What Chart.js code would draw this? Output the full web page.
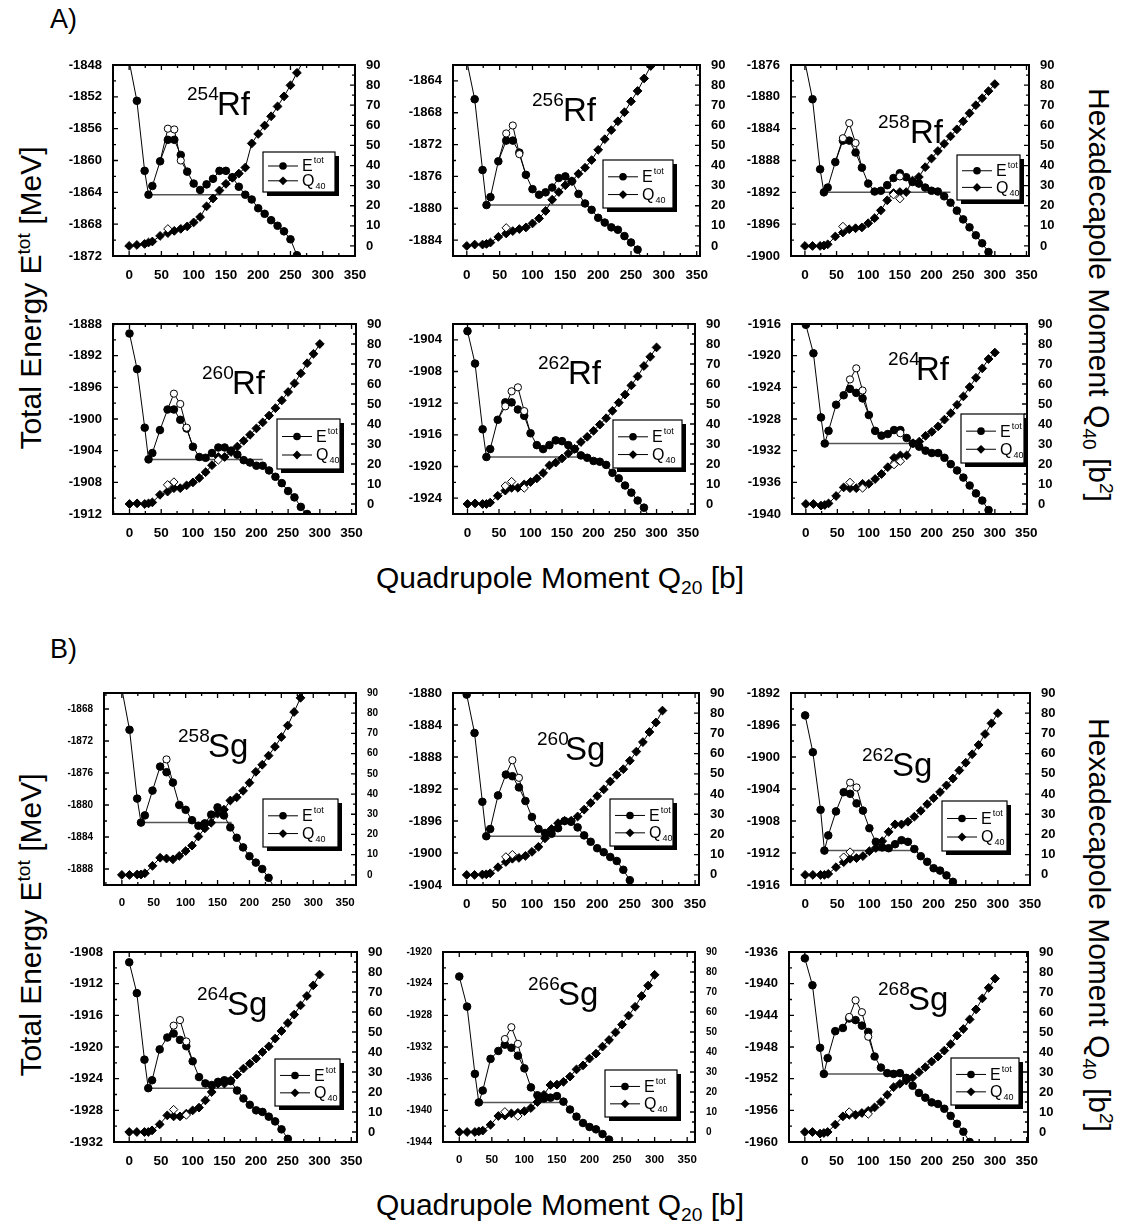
<!DOCTYPE html>
<html>
<head>
<meta charset="utf-8">
<script src="https://cdn.jsdelivr.net/npm/chart.js@4.4.0/dist/chart.umd.min.js"></script>
<style>
body { margin: 0; background: #fff; }
#page { position: relative; width: 1123px; height: 1227px; overflow: hidden; font-family: "Liberation Sans", Arial, sans-serif; color: #000; }
#page canvas { position: absolute; }
.txt { position: absolute; white-space: nowrap; font-size: 30px; line-height: 1; }
.ctr { transform: translate(-50%, -50%); }
.up { transform: translate(-50%, -50%) rotate(-90deg); }
.down { transform: translate(-50%, -50%) rotate(90deg); }
sup, sub { font-size: 0.64em; vertical-align: baseline; position: relative; }
sup { top: -0.55em; }
sub { top: 0.3em; }
</style>
</head>
<body>
<div id="page">
  <div class="txt" style="left:50px; top:6px; font-size:27px;">A)</div>
  <div class="txt" style="left:50px; top:636px; font-size:27px;">B)</div>
  <div class="txt up" style="left:31px; top:298px;">Total Energy E<sup>tot</sup> [MeV]</div>
  <div class="txt up" style="left:31px; top:925px;">Total Energy E<sup>tot</sup> [MeV]</div>
  <div class="txt down" style="left:1099px; top:295px;">Hexadecapole Moment Q<sub>40</sub> [b<sup>2</sup>]</div>
  <div class="txt down" style="left:1099px; top:925px;">Hexadecapole Moment Q<sub>40</sub> [b<sup>2</sup>]</div>
  <div class="txt ctr" style="left:560px; top:578px;">Quadrupole Moment Q<sub>20</sub> [b]</div>
  <div class="txt ctr" style="left:560px; top:1205px;">Quadrupole Moment Q<sub>20</sub> [b]</div>
</div>
<script>
// quadrupole moment grid [b]
const q20 = [0, 12, 24, 30, 36, 48, 60, 70, 80, 90, 100, 110, 120, 130, 140, 150, 160, 170, 180, 190, 200, 210, 220, 230, 240, 250, 260, 270, 280, 290, 300];
const xTicks = [0, 50, 100, 150, 200, 250, 300, 350];
const q40Ticks = [0, 10, 20, 30, 40, 50, 60, 70, 80, 90];

const symbols = ["Rf", "Rf", "Rf", "Rf", "Rf", "Rf", "Sg", "Sg", "Sg", "Sg", "Sg", "Sg"];
const masses = [254, 256, 258, 260, 262, 264, 258, 260, 262, 264, 266, 268];
// top of the energy axis, each axis spans 24 MeV
const energyTop = [-1848, -1862, -1876, -1888, -1902, -1916, -1866, -1880, -1892, -1908, -1920, -1936];
// end of the horizontal line drawn at the ground state energy
const barrierEnd = [180, 180, 230, 210, 180, 180, 172, 180, 170, 168, 162, 150];

// total energy E_tot [MeV]
const eRf254 = [-1847.5, -1852.5, -1861.3, -1864.3, -1863.2, -1860.1, -1857.4, -1857.4, -1859.3, -1861.4, -1862.9, -1863.7, -1863.0, -1862.3, -1861.3, -1861.3, -1862.1, -1863.3, -1864.3, -1864.9, -1866.0, -1866.7, -1867.5, -1868.2, -1868.9, -1869.9, -1871.9, -1873.5, null, null, null];
const eRf256 = [-1861.5, -1866.3, -1875.2, -1879.6, -1878.6, -1874.1, -1871.5, -1871.5, -1873.0, -1875.8, -1877.6, -1878.3, -1878.0, -1877.4, -1876.2, -1876.0, -1876.6, -1878.2, -1879.4, -1880.2, -1881.2, -1881.8, -1882.4, -1882.7, -1883.5, -1884.3, -1885.2, -1887.0, null, null, null];
const eRf258 = [-1875.6, -1880.3, -1889.1, -1892.0, -1891.4, -1888.2, -1885.5, -1885.5, -1887.0, -1888.9, -1890.9, -1891.9, -1891.8, -1891.1, -1890.2, -1889.6, -1890.1, -1890.7, -1890.9, -1891.4, -1891.8, -1891.9, -1892.5, -1893.3, -1894.3, -1895.4, -1896.4, -1897.4, -1898.4, -1899.5, -1901.0];
const eRf260 = [-1889.2, -1893.7, -1901.1, -1905.1, -1904.3, -1901.4, -1898.8, -1898.8, -1900.1, -1901.2, -1903.5, -1904.8, -1904.9, -1904.3, -1903.6, -1903.6, -1904.0, -1904.5, -1905.2, -1905.5, -1905.9, -1905.9, -1906.5, -1907.3, -1908.1, -1909.1, -1909.9, -1911.1, -1912.0, -1913.2, null];
const eRf262 = [-1902.9, -1907.0, -1915.3, -1918.8, -1917.8, -1914.1, -1911.9, -1911.9, -1912.8, -1913.6, -1915.8, -1917.3, -1917.8, -1917.3, -1916.7, -1916.8, -1917.3, -1917.8, -1918.6, -1918.9, -1919.3, -1919.4, -1919.8, -1920.8, -1921.5, -1922.4, -1923.3, -1924.3, -1925.2, -1926.6, null];
const eRf264 = [-1916.1, -1919.7, -1927.8, -1931.1, -1929.5, -1926.2, -1925.0, -1924.2, -1924.7, -1925.4, -1927.5, -1929.5, -1930.1, -1929.9, -1929.4, -1929.4, -1930.4, -1931.1, -1931.5, -1932.0, -1932.3, -1932.3, -1932.9, -1933.7, -1934.5, -1935.4, -1936.4, -1937.4, -1938.3, -1939.5, null];
const eSg258 = [-1865.5, -1870.6, -1879.2, -1882.2, -1881.3, -1878.2, -1875.2, -1875.9, -1877.2, -1880.0, -1880.6, -1881.9, -1882.6, -1882.3, -1881.2, -1880.3, -1881.3, -1882.8, -1884.1, -1885.3, -1886.4, -1887.2, -1888.0, -1889.1, -1890.5, null, null, null, null, null, null];
const eSg260 = [-1880.2, -1885.0, -1893.6, -1897.9, -1897.0, -1892.8, -1890.2, -1890.4, -1891.8, -1893.5, -1895.5, -1897.0, -1897.5, -1897.6, -1896.9, -1896.0, -1896.1, -1896.8, -1897.8, -1898.6, -1899.4, -1899.9, -1900.5, -1901.0, -1902.1, -1903.4, -1905.0, null, null, null, null];
const eSg262 = [-1894.8, -1899.4, -1906.6, -1911.7, -1909.8, -1906.8, -1904.4, -1904.6, -1905.8, -1906.7, -1908.9, -1910.6, -1911.3, -1911.4, -1910.9, -1910.4, -1910.6, -1911.5, -1912.4, -1913.1, -1913.9, -1914.2, -1914.8, -1915.6, -1917.0, null, null, null, null, null, null];
const eSg264 = [-1909.3, -1913.2, -1921.6, -1925.2, -1924.2, -1920.3, -1918.8, -1918.3, -1919.1, -1919.9, -1921.8, -1923.8, -1924.6, -1924.8, -1924.4, -1924.2, -1924.3, -1925.5, -1926.5, -1927.3, -1928.0, -1928.2, -1928.8, -1929.4, -1930.4, -1931.6, -1933.0, null, null, null, null];
const eSg266 = [-1923.1, -1926.9, -1935.4, -1939.0, -1937.5, -1933.5, -1932.5, -1931.7, -1932.1, -1933.1, -1934.7, -1937.1, -1938.1, -1938.5, -1938.4, -1938.2, -1938.9, -1939.9, -1940.8, -1941.6, -1942.1, -1942.4, -1943.0, -1943.7, -1945.0, null, null, null, null, null, null];
const eSg268 = [-1936.8, -1940.2, -1948.1, -1951.4, -1949.4, -1946.0, -1945.6, -1944.4, -1944.6, -1945.3, -1946.1, -1949.2, -1950.6, -1951.3, -1951.4, -1951.3, -1951.9, -1952.9, -1953.8, -1954.4, -1955.0, -1955.2, -1955.8, -1956.7, -1957.7, -1958.7, -1960.0, -1961.0, null, null, null];

// second (open symbol) energy branch: [Q20, E]
const openERf254 = [[60, -1856.0], [70, -1856.1], [80, -1860.0]];
const openERf256 = [[60, -1870.6], [70, -1869.6], [80, -1873.2]];
const openERf258 = [[60, -1885.2], [70, -1883.3], [80, -1885.8], [150, -1890.0]];
const openERf260 = [[70, -1896.8], [80, -1898.1], [90, -1901.1]];
const openERf262 = [[60, -1912.4], [70, -1910.5], [80, -1910.0], [90, -1913.0]];
const openERf264 = [[70, -1923.0], [80, -1921.6], [90, -1924.4], [150, -1929.8]];
const openESg258 = [[70, -1874.3]];
const openESg260 = [[70, -1888.4], [80, -1890.6]];
const openESg262 = [[70, -1903.2], [80, -1903.8]];
const openESg264 = [[70, -1917.3], [80, -1916.6], [90, -1919.3]];
const openESg266 = [[70, -1931.0], [80, -1929.5], [90, -1931.6]];
const openESg268 = [[70, -1944.2], [80, -1942.1], [90, -1943.6], [100, -1946.7]];

// hexadecapole moment Q40 [b^2]
const qRf254 = [0, 0.5, 1, 1.7, 2.2, 5, 6.4, 7.5, 8.5, 9.7, 11.7, 14.4, 19.7, 23.6, 27.6, 30.9, 33.9, 36, 39, 51, 55.7, 59.9, 64.5, 69.4, 74.4, 79.9, 86.1, 92, null, null, null];
const qRf256 = [0, 0.7, 0.7, 1, 1.7, 4.5, 6.2, 7.4, 8.4, 9.2, 11.2, 13.7, 17.4, 23, 26.8, 30.2, 32.2, 35.9, 38.9, 42.7, 47.8, 53.1, 57.6, 62, 66.5, 71.9, 77.1, 83.3, 89.5, 95, null];
const qRf258 = [0, 0, 0, 0.2, 0.8, 4.7, 6.7, 8.3, 8.8, 9.2, 11.3, 13.8, 17.7, 22.7, 26.3, 26.8, 26.8, 32.5, 34.3, 39.2, 43.5, 47.2, 50.8, 54.5, 58, 62, 66, 70, 73.5, 77, 80.5];
const qRf260 = [0, 0.3, 0, 0.3, 0.8, 4.6, 6.2, 7.9, 7.9, 9.3, 10.8, 13, 15.9, 19.4, 23.5, 23.5, 26, 28.7, 31.6, 34.6, 37.8, 40.8, 44.2, 47.9, 51.8, 56, 60.3, 65.3, 70.4, 75.1, 80];
const qRf262 = [0, 0.3, 0, 0, 0.7, 4.1, 6.7, 8.1, 8.1, 9.8, 11, 12.8, 15.5, 19.3, 20.7, 22.8, 25.3, 27.6, 31, 33.6, 36.6, 39.7, 42.9, 46.6, 50.7, 54.7, 59.3, 63.8, 69, 73.6, 78.3];
const qRf264 = [0, 0, -0.8, -0.5, 0.3, 4, 8.3, 7.9, 7.9, 10.1, 10.1, 12.5, 15, 18.4, 23.1, 24.3, 24.3, 30.4, 31.2, 34.1, 36.1, 38.8, 42.2, 45.4, 49.6, 53.8, 58.5, 63.1, 67.8, 72.5, 75.7];
const qSg258 = [0, 0, 0.2, 0.2, 0.8, 4.5, 8.5, 8.1, 7.7, 9.4, 11.8, 14.5, 19, 23, 25.8, 30.3, 32.3, 36.8, 38.4, 41.6, 45.6, 51, 54.5, 59, 63.4, 68.2, 73.9, 80.6, 87.6, 93, null];
const qSg260 = [0, 0, 0.2, 0.3, 0.8, 3.8, 6.4, 8, 8.4, 9.4, 11.4, 13.9, 18.1, 22.7, 25.6, 26.8, 26.8, 28.9, 32.3, 35.6, 39, 42.3, 46.2, 49.5, 52.3, 56.5, 61, 65.7, 70.7, 75.4, 81.3];
const qSg262 = [0, 0, 0, 0, 0.5, 3.8, 6.3, 8, 8.3, 9.3, 11.7, 13.3, 16.7, 21.3, 25, 25, 26.3, 28.8, 31.7, 35, 38, 41, 44.3, 47.7, 51.7, 55.5, 59.7, 64.3, 69.7, 75, 80];
const qSg264 = [0, 0, 0, 0, 0.8, 3.8, 8.3, 7.8, 7.8, 9.2, 10.8, 12.2, 15.8, 20, 24.2, 24.2, 25.8, 28.7, 31.7, 34.2, 36.7, 40, 42.8, 46.7, 50.5, 54.5, 58.7, 63.3, 68, 73.3, 78.7];
const qSg266 = [0, 0, 0, 0.3, 0.7, 3.6, 8, 8.2, 9.3, 9.6, 10.4, 12, 15, 18.6, 23.5, 23.7, 25.1, 27.7, 31.3, 33.3, 36.7, 39.2, 42.7, 46, 49.8, 53.7, 58.2, 62.6, 68, 73.2, 78.6];
const qSg268 = [0, 0, -0.8, -0.5, 0, 3.7, 7.8, 8.6, 8.6, 9.5, 10.6, 12.3, 15, 18.6, 22.4, 24.1, 25.7, 27.2, 29.9, 32.4, 35.2, 37.7, 40.7, 43.9, 48.2, 51.5, 56.3, 61.3, 66.8, 72.1, 76.7];

// open diamonds: [Q20, Q40]
const openQRf254 = [[60, 8.5]];
const openQRf256 = [[60, 9]];
const openQRf258 = [[60, 9.7], [140, 25.5], [150, 23.5]];
const openQRf260 = [[60, 9.6], [70, 11], [140, 22]];
const openQRf262 = [[60, 9], [70, 11.2], [90, 8]];
const openQRf264 = [[70, 10.8], [90, 8], [140, 19.7], [150, 21.4]];
const openQSg258 = [];
const openQSg260 = [[60, 8.9], [70, 10]];
const openQSg262 = [[60, 8.8], [70, 11.3]];
const openQSg264 = [[70, 11.2], [90, 8.5]];
const openQSg266 = [[70, 10.1], [90, 8]];
const openQSg268 = [[70, 10], [100, 9]];

const energies = [eRf254, eRf256, eRf258, eRf260, eRf262, eRf264, eSg258, eSg260, eSg262, eSg264, eSg266, eSg268];
const openEnergies = [openERf254, openERf256, openERf258, openERf260, openERf262, openERf264, openESg258, openESg260, openESg262, openESg264, openESg266, openESg268];
const moments = [qRf254, qRf256, qRf258, qRf260, qRf262, qRf264, qSg258, qSg260, qSg262, qSg264, qSg266, qSg268];
const openMoments = [openQRf254, openQRf256, openQRf258, openQRf260, openQRf262, openQRf264, openQSg258, openQSg260, openQSg262, openQSg264, openQSg266, openQSg268];

// layout: plot box [left, top, width, height], x range, nucleus label, legend box
const boxes = [
  [113, 65, 242, 191], [453, 65, 247, 191], [791, 65, 238, 191],
  [113, 324, 243, 190], [453, 324, 242, 190], [792, 324, 235, 190],
  [104, 693, 252, 192], [453, 693, 246, 192], [791, 693, 239, 192],
  [114, 952, 243, 190], [443, 952, 252, 190], [789, 952, 239, 190]
];
const xRanges = [[-25, 350], [-21, 355], [-22, 354], [-26, 357], [-23, 361], [-22, 351],
                 [-28, 367], [-21, 356], [-22, 350], [-24, 359], [-25, 362], [-25, 352]];
const labelPos = [[74, 104, 50], [79, 110, 56], [87, 119, 78], [89, 119, 70], [85, 115, 60], [96, 124, 56],
                  [74, 104, 64], [84, 112, 67], [71, 101, 83], [83, 113, 63], [85, 115, 53], [89, 119, 58]];
const legendPos = [[150, 87, 72, 40], [150, 95, 70, 48], [166, 90, 63, 45], [164, 95, 63, 50], [160, 96, 69, 48], [169, 90, 63, 49],
                   [159, 106, 75, 48], [157, 106, 63, 47], [151, 108, 65, 50], [161, 107, 65, 47], [162, 118, 72, 47], [162, 106, 68, 47]];
const smallFont = [false, false, false, false, false, false, true, false, false, false, true, false];

const FONT = '"Liberation Sans", Arial, sans-serif';

function branch(open, base) {
  const out = [];
  const idx = open.map(p => q20.indexOf(p[0]));
  for (let a = 0; a < open.length; a++) {
    const j = idx[a];
    if (a === 0 || idx[a - 1] !== j - 1) {
      if (a > 0) out.push({ x: q20[j] - 1, y: null });
      out.push({ x: q20[j - 1], y: base[j - 1], end: true });
    }
    out.push({ x: open[a][0], y: open[a][1] });
    if (a === open.length - 1 || idx[a + 1] !== j + 1) out.push({ x: q20[j + 1], y: base[j + 1], end: true });
  }
  return out;
}

function drawDiamond(ctx, x, y, r) {
  ctx.beginPath();
  ctx.moveTo(x, y - r); ctx.lineTo(x + r, y); ctx.lineTo(x, y + r); ctx.lineTo(x - r, y);
  ctx.closePath(); ctx.fill();
}

const decor = {
  id: 'decor',
  afterDatasetsDraw(chart, args, o) {
    const { ctx, chartArea: a, scales } = chart;
    ctx.save();
    ctx.strokeStyle = '#000';
    ctx.lineWidth = 2;
    ctx.strokeRect(a.left, a.top, a.right - a.left, a.bottom - a.top);
    ctx.lineWidth = 1.3;
    ctx.beginPath();
    const xs = scales.x, ye = scales.yE, yq = scales.yQ;
    for (let v = Math.ceil(xs.min / 25) * 25; v <= xs.max; v += 25) {
      const px = xs.getPixelForValue(v);
      const len = v % 50 === 0 ? 5 : 3;
      ctx.moveTo(px, a.bottom); ctx.lineTo(px, a.bottom - len);
      ctx.moveTo(px, a.top); ctx.lineTo(px, a.top + len);
    }
    for (let v = ye.min; v <= ye.max; v += 2) {
      const py = ye.getPixelForValue(v);
      const len = v % 4 === 0 ? 5 : 3;
      ctx.moveTo(a.left, py); ctx.lineTo(a.left + len, py);
    }
    for (let v = -5; v <= 90; v += 5) {
      const py = yq.getPixelForValue(v);
      const len = v % 10 === 0 ? 5 : 3;
      ctx.moveTo(a.right, py); ctx.lineTo(a.right - len, py);
    }
    ctx.stroke();

    // nucleus label
    ctx.fillStyle = '#000';
    ctx.textBaseline = 'alphabetic';
    ctx.textAlign = 'left';
    ctx.font = '33px ' + FONT;
    ctx.fillText(o.symbol, a.left + o.label[1], a.top + o.label[2]);
    ctx.font = '19px ' + FONT;
    ctx.fillText(String(o.mass), a.left + o.label[0], a.top + o.label[2] - 15);

    // legend
    const [lx, ly, lw, lh] = o.legend;
    const bx = a.left + lx, by = a.top + ly;
    ctx.fillRect(bx + 4, by + 4, lw, lh);
    ctx.fillStyle = '#fff';
    ctx.fillRect(bx, by, lw, lh);
    ctx.lineWidth = 1.2;
    ctx.strokeRect(bx, by, lw, lh);
    ctx.fillStyle = '#000';
    ctx.lineWidth = 1;
    const r1 = by + lh * 0.35, r2 = by + lh * 0.72;
    ctx.beginPath();
    ctx.moveTo(bx + 5, r1); ctx.lineTo(bx + 35, r1);
    ctx.moveTo(bx + 5, r2); ctx.lineTo(bx + 35, r2);
    ctx.stroke();
    ctx.beginPath(); ctx.arc(bx + 20, r1, 3.8, 0, Math.PI * 2); ctx.fill();
    drawDiamond(ctx, bx + 20, r2, 4.4);
    ctx.textBaseline = 'middle';
    ctx.font = '16px ' + FONT;
    ctx.fillText('E', bx + 39, r1 + 1);
    const ew = ctx.measureText('E').width;
    ctx.fillText('Q', bx + 39, r2 + 1);
    const qw = ctx.measureText('Q').width;
    ctx.font = '9px ' + FONT;
    ctx.fillText('tot', bx + 40 + ew, r1 - 5);
    ctx.fillText('40', bx + 40 + qw, r2 + 6);
    ctx.restore();
  }
};

const page = document.getElementById('page');

function makePanel(i) {
  const [left, top, w, h] = boxes[i];
  const padL = 56, padR = 42, padT = 12, padB = 28;
  const canvas = document.createElement('canvas');
  canvas.width = w + padL + padR;
  canvas.height = h + padT + padB;
  canvas.style.left = (left - padL) + 'px';
  canvas.style.top = (top - padT) + 'px';
  page.appendChild(canvas);

  const small = smallFont[i];
  const tickFont = { family: FONT, size: small ? 10 : 13, weight: 'bold' };
  const xFont = { family: FONT, size: small ? 11.5 : 13.5, weight: 'bold' };
  const eTop = energyTop[i];
  const eTicks = [];
  for (let v = Math.ceil((eTop - 24) / 4) * 4; v <= eTop; v += 4) eTicks.push(v);

  const E = energies[i], Q = moments[i];
  const eData = q20.map((x, k) => ({ x, y: E[k] })).filter(p => p.y !== null);
  const qData = q20.map((x, k) => ({ x, y: Q[k] })).filter(p => p.y !== null);
  const gs = E[q20.indexOf(30)];

  new Chart(canvas, {
    type: 'line',
    data: {
      datasets: [
        {
          data: branch(openEnergies[i], E), yAxisID: 'yE',
          borderColor: '#000', borderWidth: 1, backgroundColor: '#fff',
          pointRadius: c => (c.raw && c.raw.end) ? 0 : 3.6,
          pointBorderWidth: 1, pointBorderColor: '#000', pointBackgroundColor: '#fff', spanGaps: false
        },
        {
          data: eData, yAxisID: 'yE', borderColor: '#000', borderWidth: 1,
          pointStyle: 'circle', pointRadius: 3.8, pointBackgroundColor: '#000', pointBorderColor: '#000', pointBorderWidth: 1
        },
        {
          data: openMoments[i].map(p => ({ x: p[0], y: p[1] })), yAxisID: 'yQ', showLine: false,
          pointStyle: 'rectRot', pointRadius: 4.2, pointBackgroundColor: '#fff', pointBorderColor: '#000', pointBorderWidth: 1
        },
        {
          data: qData, yAxisID: 'yQ', borderColor: '#000', borderWidth: 1,
          pointStyle: 'rectRot', pointRadius: 4.4, pointBackgroundColor: '#000', pointBorderColor: '#000', pointBorderWidth: 1
        },
        {
          data: [{ x: 30, y: gs }, { x: barrierEnd[i], y: gs }], yAxisID: 'yE',
          borderColor: '#555', borderWidth: 1.5, pointRadius: 0
        }
      ]
    },
    options: {
      responsive: false,
      animation: false,
      layout: { padding: { top: padT, left: 0, right: 0, bottom: 0 } },
      plugins: {
        legend: { display: false },
        tooltip: { enabled: false },
        decor: { symbol: symbols[i], mass: masses[i], label: labelPos[i], legend: legendPos[i] }
      },
      scales: {
        x: {
          type: 'linear', min: xRanges[i][0], max: xRanges[i][1],
          afterBuildTicks: s => { s.ticks = xTicks.filter(v => v <= s.max).map(v => ({ value: v })); },
          afterFit: s => { s.height = padB; },
          grid: { display: false }, border: { display: false },
          ticks: { font: xFont, color: '#000', padding: 3, maxRotation: 0, autoSkip: false, callback: v => String(v) }
        },
        yE: {
          type: 'linear', position: 'left', min: eTop - 24, max: eTop,
          afterBuildTicks: s => { s.ticks = eTicks.map(v => ({ value: v })); },
          afterFit: s => { s.width = padL; },
          grid: { display: false }, border: { display: false },
          ticks: { font: tickFont, color: '#000', padding: 3, autoSkip: false, callback: v => String(v) }
        },
        yQ: {
          type: 'linear', position: 'right', min: -5, max: 90,
          afterBuildTicks: s => { s.ticks = q40Ticks.map(v => ({ value: v })); },
          afterFit: s => { s.width = padR; },
          grid: { display: false }, border: { display: false },
          ticks: { font: tickFont, color: '#000', padding: 3, autoSkip: false, callback: v => String(v) }
        }
      }
    },
    plugins: [decor]
  });
}

for (let i = 0; i < 12; i++) makePanel(i);
</script>
</body>
</html>
